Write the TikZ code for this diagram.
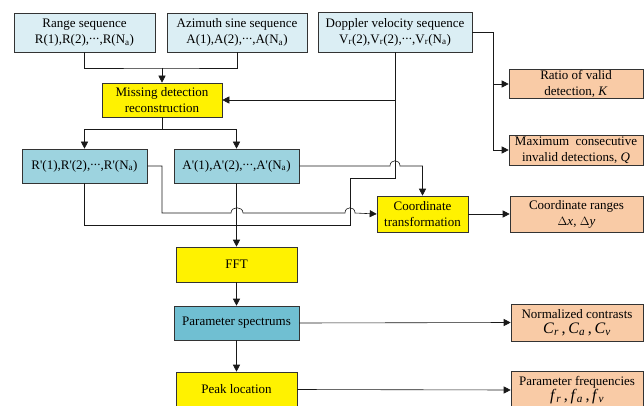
\documentclass[tikz,border=0pt]{standalone}
\usepackage{fontspec}
\setmainfont{Liberation Serif}
\usetikzlibrary{arrows.meta,positioning,calc}
\newcommand{\idx}[1]{\textsubscript{#1}}
\newcommand{\pr}{\textquotesingle}
\newcommand{\dts}{\raisebox{0.28em}{.\kern0.3pt.\kern0.3pt.}}
\definecolor{seqblue}{HTML}{DBEEF4}
\definecolor{recblue}{HTML}{9DD3DF}
\definecolor{specblue}{HTML}{70BFD2}
\definecolor{resorange}{HTML}{F9CBA6}

\begin{document}
\begin{tikzpicture}[x=1pt,y=-1pt,>={Triangle[length=7pt,width=7pt]},
  box/.style={draw=black!80,line width=0.6pt,inner sep=1pt,align=center,font=\fontsize{13}{16}\selectfont},
  sz/.style 2 args={minimum width=#1pt,minimum height=#2pt},
  seq/.style={box,fill=seqblue},
  rec/.style={box,fill=recblue},
  proc/.style={box,fill=yellow},
  res/.style={box,fill=resorange},
  wire/.style={line width=0.6pt,black!90}]
\useasboundingbox(0,0)rectangle(644,406);
\clip(0,0)rectangle(644,406);
% input sequences
\node[seq,sz={141}{39}](rng)at(84.5,32.5){Range sequence\\R(1),R(2),\dts,R(N\idx{a})};
\node[seq,sz={140}{39}](azi)at(237,32.5){Azimuth sine sequence\\A(1),A(2),\dts,A(N\idx{a})};
\node[seq,sz={154}{40}](dop)at(395,32){Doppler velocity sequence\\V\idx{r}(2),V\idx{r}(2),\dts,V\idx{r}(N\idx{a})};
\node[proc,sz={120}{34}](miss)at(162,100){Missing detection\\reconstruction};
\node[rec,sz={125}{34}](rp)at(84.5,166){R\pr(1),R\pr(2),\dts,R\pr(N\idx{a})};
\node[rec,sz={125}{34}](ap)at(236.5,166){A\pr(1),A\pr(2),\dts,A\pr(N\idx{a})};
\node[proc,sz={91}{36}](coord)at(422.5,214){Coordinate\\transformation};
\node[proc,sz={121}{35}](fft)at(236.5,264.5){FFT};
\node[box,fill=specblue,sz={125}{34}](spec)at(236.5,323){Parameter spectrums};
\node[proc,sz={121}{35}](peak)at(236.5,389.5){Peak location};
% results
\node[res,sz={134}{28}](ratio)at(576,84){Ratio of valid\\detection, \textit{K}};
\node[res,sz={134}{30}](maxc)at(576,150){Maximum\ \ consecutive\\invalid detections, \textit{Q}};
\node[res,sz={133}{36}](crange)at(576.5,214){Coordinate ranges\\$\Delta$\textit{x}, $\Delta$\textit{y}};
\node[res,sz={132}{37}](ncon)at(577,322.5){Normalized contrasts\\[-1pt]{\fontsize{16}{16}\selectfont\textit{C}\idx{\textit{r}}\,,\,\textit{C}\idx{\textit{a}}\,,\,\textit{C}\idx{\textit{v}}}};
\node[res,sz={132}{37}](pfreq)at(577,390){Parameter frequencies\\[-1pt]{\fontsize{16}{16}\selectfont\textit{f}\idx{\textit{r}}\,,\,\textit{f}\idx{\textit{a}}\,,\,\textit{f}\idx{\textit{v}}}};
% connectors
\coordinate(j1)at(162,68);
\coordinate(j2)at(162,129);
\coordinate(j3)at(237,225);
\coordinate(j4)at(493,32);
\draw[wire](rng.south)|-(j1)-|(azi.south);
\draw[wire,->](j1)--(miss.north);
\draw[wire](miss.south)--(j2);
\draw[wire,->](j2)-|(rp.north);
\draw[wire,->](j2)-|(ap.north);
\draw[wire,->](dop.south|-miss.east)--(miss.east);
\draw[wire](dop.south)|-(350,178)|-(j3);
\draw[wire](rp.south)|-(j3);
\draw[wire,->](ap.south)--(fft.north);
\draw[wire,->](rp.east)-|(162,213)--(231,213)..controls(231,206)and(243,206)..(243,213)
  --(345,213)..controls(345,206)and(355,206)..(355,213)--(coord.west);
\draw[wire,->](ap.east)--(390,166)..controls(390,159)and(400,159)..(400,166)-|(coord.north);
\draw[wire,->](coord.east)--(crange.west);
\draw[wire,->](dop.east)--(j4)|-(maxc.west);
\draw[wire,->](j4|-ratio.west)--(ratio.west);
\draw[wire,->](fft.south)--(spec.north);
\draw[wire,->](spec.south)--(peak.north);
\draw[wire,->](spec.east)--(ncon.west);
\draw[wire,->](peak.east)--(pfreq.west);
\end{tikzpicture}
\end{document}
